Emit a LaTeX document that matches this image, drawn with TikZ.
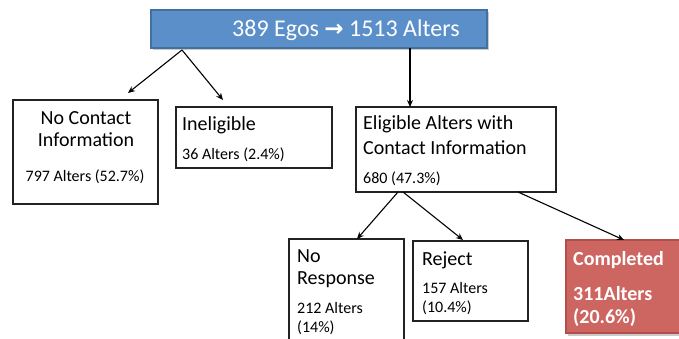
\documentclass[tikz,border=0pt]{standalone}
\usepackage{fontspec}
\setmainfont{Carlito}
\newfontfamily\arrowfont{DejaVu Sans}
\usetikzlibrary{arrows.meta,shadows}
\definecolor{topblue}{HTML}{5B8FCA}
\definecolor{topborder}{HTML}{41719C}
\definecolor{compred}{HTML}{CD6661}
\definecolor{compborder}{HTML}{B24F4A}
\definecolor{boxline}{HTML}{222222}
\tikzset{
  box/.style={draw=boxline, line width=1.3pt, fill=white, inner sep=0pt, outer sep=0pt, anchor=north west},
  shadowed/.style={drop shadow={shadow xshift=1.5pt, shadow yshift=-2.5pt, opacity=0.35, fill=black!60}},
  big/.style={font=\fontsize{20}{22}\selectfont, inner sep=0pt, anchor=base west},
  small/.style={font=\fontsize{16}{18}\selectfont, inner sep=0pt, anchor=base west},
  bigw/.style={font=\fontsize{20}{22}\selectfont\bfseries, text=white, inner sep=0pt, anchor=base west},
  arr/.style={draw=black, line width=1.1pt, -{Stealth[length=7pt,width=6pt]}}
}
\begin{document}
\begin{tikzpicture}[x=1pt,y=-1pt]
\useasboundingbox (0,0) rectangle (679,339);
\clip (0,0) rectangle (679,339);
% boxes
\node[box, shadowed, draw=topborder, fill=topblue, minimum width=336pt, minimum height=38pt] (top) at (151,10) {};
\node[box, minimum width=145pt, minimum height=104pt] (nc) at (13,100) {};
\node[box, minimum width=156pt, minimum height=61pt] (inel) at (176,107) {};
\node[box, minimum width=200pt, minimum height=85pt] (elig) at (356,107) {};
\node[box, minimum width=115pt, minimum height=120pt] (nr) at (289,239) {};
\node[box, minimum width=115pt, minimum height=80pt] (rej) at (413,241) {};
\node[box, shadowed, draw=compborder, fill=compred, minimum width=130pt, minimum height=93pt] (comp) at (566,240) {};
% title
\node[font=\fontsize{24}{26}\selectfont, text=white, inner sep=0pt, anchor=base west] (title) at (232,37) {389 Egos {\arrowfont\fontsize{23}{25}\selectfont\bfseries →} 1513 Alters};
% texts
\node[font=\fontsize{20}{22}\selectfont, inner sep=0pt, anchor=base] (nc1) at (86,125) {No Contact};
\node[font=\fontsize{20}{22}\selectfont, inner sep=0pt, anchor=base] (nc2) at (86,147) {Information};
\node[font=\fontsize{16}{18}\selectfont, inner sep=0pt, anchor=base] (nc3) at (85,182) {797 Alters (52.7\%)};
\node[big] (in1) at (182,131) {Ineligible};
\node[small] (in2) at (182,160) {36 Alters (2.4\%)};
\node[big] (el1) at (363,130) {Eligible Alters with};
\node[big] (el2) at (363,154) {Contact Information};
\node[small] (el3) at (363,183) {680 (47.3\%)};
\node[big] (nr1) at (297,262) {No};
\node[big] (nr2) at (297,284) {Response};
\node[small] (nr3) at (297,313) {212 Alters};
\node[small] (nr4) at (297,332) {(14\%)};
\node[big] (rj1) at (422,265) {Reject};
\node[small] (rj2) at (422,293) {157 Alters};
\node[small] (rj3) at (422,312) {(10.4\%)};
\node[bigw] (cp1) at (573,265) {Completed};
\node[bigw] (cp2) at (573,300) {311Alters};
\node[bigw] (cp3) at (573,323) {(20.6\%)};
% connector points
\coordinate (s1) at (182,50);
\coordinate (t1) at (128,93);
\coordinate (t2) at (223,100);
\coordinate (s2) at (410,48);
\coordinate (t3) at (410,107);
\coordinate (s3) at (398,192);
\coordinate (t4) at (357,239);
\coordinate (s4) at (403,192);
\coordinate (t5) at (463,240);
\coordinate (s5) at (518,192);
\coordinate (t6) at (624,240);
\draw[arr] (s1) -- (t1);
\draw[arr] (s1) -- (t2);
\draw[arr] (s2) -- (t3);
\draw[arr] (s3) -- (t4);
\draw[arr] (s4) -- (t5);
\draw[arr] (s5) -- (t6);
\end{tikzpicture}
\end{document}
